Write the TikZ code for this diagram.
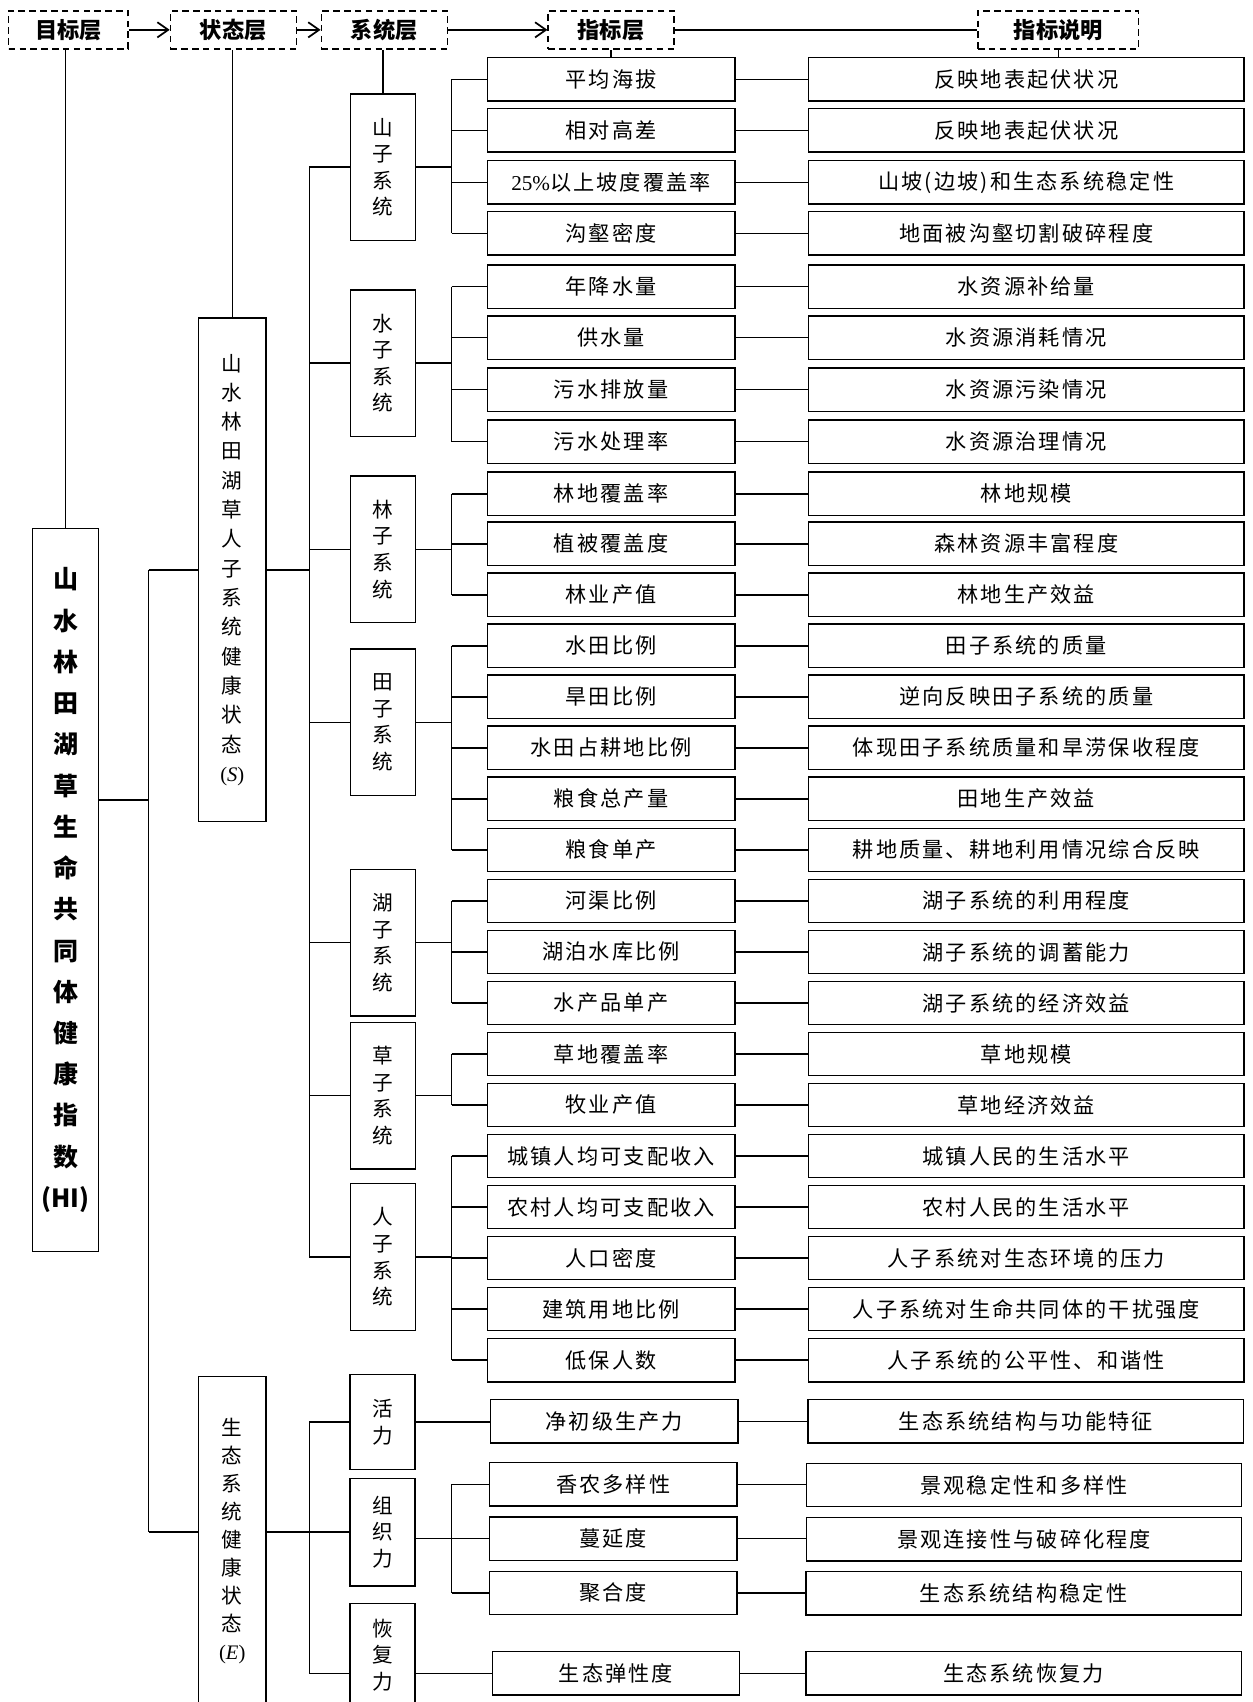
\documentclass[tikz,border=0pt]{standalone}
\usepackage{fontspec}
\setmainfont{Liberation Serif}
\newfontfamily\cjk{Noto Sans CJK SC}[LetterSpace=10]
\newfontfamily\cjkv{Noto Sans CJK SC}
\usetikzlibrary{arrows.meta}
\begin{document}
\begin{tikzpicture}[x=1pt,y=-1pt,line width=1.3pt,
  box/.style={draw,inner sep=0pt,line width=1.3pt},
  hdr/.style={box,dash pattern=on 6pt off 4pt,minimum height=35,font=\cjkv\bfseries\fontsize{20.5}{22}\selectfont},
  ind/.style={box,minimum width=228,minimum height=40,font=\cjk\fontsize{19.5}{22}\selectfont},
  expl/.style={box,minimum width=401,minimum height=40,font=\cjk\fontsize{19.5}{22}\selectfont},
  sub/.style={box,minimum width=60,minimum height=135,align=center,font=\cjkv\fontsize{19}{24.5}\selectfont},
  arr/.style={-{Straight Barb[length=10pt,width=14pt]},line width=1.6pt}]
\useasboundingbox (0,0) rectangle (1154,1568);
\fill[white] (0,0) rectangle (1154,1568);
% headers
\node[hdr,minimum width=110] (h1) at (63,27.5) {目标层};
\node[hdr,minimum width=116] (h2) at (215,27.5) {状态层};
\node[hdr,minimum width=116] (h3) at (354,27.5) {系统层};
\node[hdr,minimum width=116] (h4) at (563,27.5) {指标层};
\node[hdr,minimum width=148] (h5) at (975,27.5) {指标说明};
\draw[arr] (h1.east) -- (h2.west);
\draw[arr] (h2.east) -- (h3.west);
\draw[arr] (h3.east) -- (h4.west);
\draw (h4.east) -- (h5.west);
% goal box
\node[box,minimum width=61,minimum height=666,align=center,font=\cjkv\bfseries\fontsize{23}{38}\selectfont] (hi) at (60.5,820)
 {山\\水\\林\\田\\湖\\草\\生\\命\\共\\同\\体\\健\\康\\指\\数\\(HI)};
% state boxes
\node[sub,minimum width=62,minimum height=464,font=\cjkv\fontsize{19}{27}\selectfont] (S) at (214,525)
 {山\\水\\林\\田\\湖\\草\\人\\子\\系\\统\\健\\康\\状\\态\\{\rmfamily(\textit{S})}};
\node[sub,minimum width=62,minimum height=304,font=\cjkv\fontsize{19}{25.8}\selectfont] (E) at (214,1420)
 {生\\态\\系\\统\\健\\康\\状\\态\\{\rmfamily(\textit{E})}};
% subsystems
\node[sub] (s1) at (353,154) {山\\子\\系\\统};
\node[sub] (s2) at (353,334.5) {水\\子\\系\\统};
\node[sub] (s3) at (353,506) {林\\子\\系\\统};
\node[sub] (s4) at (353,665.5) {田\\子\\系\\统};
\node[sub] (s5) at (353,868.5) {湖\\子\\系\\统};
\node[sub] (s6) at (353,1009.5) {草\\子\\系\\统};
\node[sub] (s7) at (353,1158) {人\\子\\系\\统};
\node[sub,minimum height=88] (v) at (352.5,1310) {活\\力};
\node[sub,minimum height=99] (o) at (352.5,1411.5) {组\\织\\力};
\node[sub,minimum height=95] (r) at (352.5,1524.5) {恢\\复\\力};
% indicators and explanations
\foreach \n/\y/\a/\b in {
 1/73/平均海拔/反映地表起伏状况,
 2/120/相对高差/反映地表起伏状况,
 3/168/{{\rmfamily 25\%}以上坡度覆盖率}/山坡(边坡)和生态系统稳定性,
 4/215/沟壑密度/地面被沟壑切割破碎程度,
 5/264/年降水量/水资源补给量,
 6/311/供水量/水资源消耗情况,
 7/359/污水排放量/水资源污染情况,
 8/407/污水处理率/水资源治理情况,
 9/455/林地覆盖率/林地规模,
 10/501/植被覆盖度/森林资源丰富程度,
 11/548/林业产值/林地生产效益,
 12/595/水田比例/田子系统的质量,
 13/642/旱田比例/逆向反映田子系统的质量,
 14/689/水田占耕地比例/体现田子系统质量和旱涝保收程度,
 15/736/粮食总产量/田地生产效益,
 16/783/粮食单产/耕地质量、耕地利用情况综合反映,
 17/830/河渠比例/湖子系统的利用程度,
 18/877/湖泊水库比例/湖子系统的调蓄能力,
 19/924/水产品单产/湖子系统的经济效益,
 20/971/草地覆盖率/草地规模,
 21/1018/牧业产值/草地经济效益,
 22/1065/城镇人均可支配收入/城镇人民的生活水平,
 23/1112/农村人均可支配收入/农村人民的生活水平,
 24/1159/人口密度/人子系统对生态环境的压力,
 25/1206/建筑用地比例/人子系统对生命共同体的干扰强度,
 26/1253/低保人数/人子系统的公平性、和谐性}{
  \node[ind] (i\n) at (563,\y) {\a};
  \node[expl] (x\n) at (945.5,\y) {\b};
  \draw (i\n.east) -- (x\n.west);
}
\node[ind] (e1) at (566,1309.5) {净初级生产力};
\node[ind] (e2) at (565,1367.5) {香农多样性};
\node[ind] (e3) at (565,1417.5) {蔓延度};
\node[ind] (e4) at (565,1467.5) {聚合度};
\node[ind] (e5) at (567.5,1541.5) {生态弹性度};
\node[expl] (f1) at (945,1309.5) {生态系统结构与功能特征};
\node[expl] (f2) at (943.5,1368) {景观稳定性和多样性};
\node[expl] (f3) at (943.5,1418) {景观连接性与破碎化程度};
\node[expl] (f4) at (943,1468) {生态系统结构稳定性};
\node[expl] (f5) at (943,1541.5) {生态系统恢复力};
\foreach \k in {1,...,5}{\draw (e\k.east) -- (e\k.east -| f\k.west);}
% header drops
\draw (hi.north) -- (hi.north |- h1.south);
\draw (S.north) -- (S.north |- h2.south);
\draw (s1.north) -- (s1.north |- h3.south);
\draw (i1.north) -- (i1.north |- h4.south);
\draw (h5.south) -- (h5.south |- x1.north);
% goal -> states
\coordinate (hiT) at (137,737);
\draw (hi.east |- hiT) -- (hiT);
\draw (hiT |- S.west) -- (hiT |- o.west);
\draw (hiT |- S.west) -- (S.west);
\draw (hiT |- o.west) -- (E.west |- o.west);
% state -> subsystems
\coordinate (sT) at (285,525);
\draw (S.east) -- (sT |- S.east);
\draw (sT |- s1.west) -- (sT |- s7.west);
\foreach \k in {1,...,7}{\draw (sT |- s\k.west) -- (s\k.west);}
\draw (E.east |- o.west) -- (o.west);
\draw (sT |- v.west) -- (sT |- e5.west);
\draw (sT |- v.west) -- (v.west);
\draw (sT |- e5.west) -- (r.west |- e5.west);
% subsystems -> indicators
\coordinate (tk) at (416,0);
\foreach \s/\a/\b in {1/1/4,2/5/8,3/9/11,4/12/16,5/17/19,6/20/21,7/22/26}{
  \draw (s\s.east) -- (tk |- s\s.east);
  \draw (tk |- i\a.west) -- (tk |- i\b.west);
}
\foreach \n in {1,...,26}{\draw (tk |- i\n.west) -- (i\n.west);}
\draw (v.east) -- (v.east -| e1.west);
\draw (o.east |- e3.west) -- (e3.west);
\draw (tk |- e2.west) -- (tk |- e4.west);
\draw (tk |- e2.west) -- (e2.west);
\draw (tk |- e4.west) -- (e4.west);
\draw (r.east |- e5.west) -- (e5.west);
\end{tikzpicture}
\end{document}
